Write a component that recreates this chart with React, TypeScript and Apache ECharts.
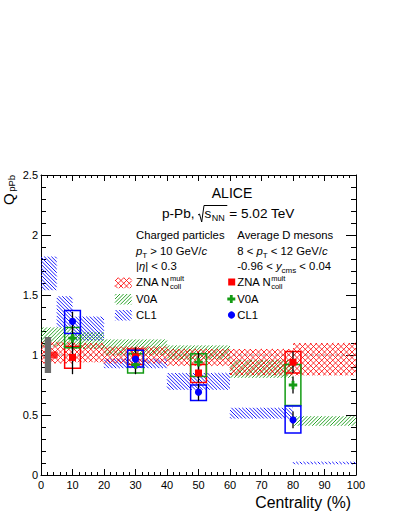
import React, { useEffect, useRef } from "react";
import * as echarts from "echarts";

// ---------------- data ----------------
const binEdges = [0, 5, 10, 20, 40, 60, 80, 100];
// charged-particle Q_pPb uncertainty bands (low / high) per centrality bin
const znaBandLow = [0.93, 0.93, 0.94, 0.93, 0.91, 0.83, 0.83];
const znaBandHigh = [1.11, 1.11, 1.1, 1.07, 1.05, 1.05, 1.1];
const v0aBandLow = [1.07, 1.07, 1.05, 1.0, 0.96, 0.81, 0.41];
const v0aBandHigh = [1.23, 1.23, 1.19, 1.13, 1.08, 0.96, 0.49];
const cl1BandLow = [1.54, 1.23, 1.12, 0.89, 0.71, 0.47, 0.09];
const cl1BandHigh = [1.82, 1.49, 1.32, 0.97, 0.85, 0.56, 0.11];

// average D mesons
const dCentrality = [10, 30, 50, 80];
const dZnaValue = [0.98, 0.985, 0.85, 0.94];
const dZnaStat = [0.14, 0.08, 0.08, 0.09];
const dZnaSysLow = [0.89, 0.92, 0.77, 0.85];
const dZnaSysHigh = [1.07, 1.05, 0.92, 1.03];
const dV0aValue = [1.14, 0.92, 0.94, 0.75];
const dV0aStat = [0.1, 0.08, 0.08, 0.07];
const dV0aSysLow = [1.06, 0.85, 0.82, 0.58];
const dV0aSysHigh = [1.23, 1.01, 1.01, 0.92];
const dCl1Value = [1.28, 0.965, 0.69, 0.46];
const dCl1Stat = [0.08, 0.08, 0.07, 0.07];
const dCl1SysLow = [1.18, 0.9, 0.62, 0.35];
const dCl1SysHigh = [1.37, 1.04, 0.75, 0.575];
const boxHalfWidth = [2.5];

// normalisation uncertainty
const normBoxX = [1.2, 3.2];
const normBoxY = [0.85, 1.15];
const normPoint = [4.2, 1.0];
const refLineValue = 1;

// axis ticks
const xTicks = { min: 0, max: 100, interval: 10 };
const yTicks = { min: 0, max: 2.5, interval: 0.5 };

const FONT = '"Liberation Sans", Arial, Helvetica, sans-serif';
const RED = "#ff0000";
const GREEN = "#149b14";
const BLUE = "#0000ff";

let mctx: CanvasRenderingContext2D | null = null;
function tw(text: string, size: number, italic?: boolean) {
  if (!mctx) mctx = document.createElement("canvas").getContext("2d");
  mctx!.font = `${italic ? "italic " : ""}${size}px ${FONT}`;
  return mctx!.measureText(text).width;
}

type Piece = { t: string; s?: number; dy?: number; i?: boolean; dx?: number; noAdv?: boolean };
function seq(x0: number, y: number, pieces: Piece[], base: number, rot = false) {
  const els: any[] = [];
  const xs: number[] = [];
  let x = 0;
  for (const p of pieces) {
    const s = p.s ?? base;
    x += p.dx ?? 0;
    xs.push(x0 + x);
    const dy = p.dy ?? 0;
    els.push({
      type: "text",
      x: rot ? x0 + dy : x0 + x,
      y: rot ? y - x : y + dy,
      rotation: rot ? Math.PI / 2 : 0,
      silent: true,
      style: {
        text: p.t,
        fontSize: s,
        fontFamily: FONT,
        fontStyle: p.i ? "italic" : "normal",
        fill: "#000",
        align: "left",
        verticalAlign: "middle",
      },
    });
    if (!p.noAdv) x += tw(p.t, s, p.i);
  }
  xs.push(x0 + x);
  return { els, xs };
}

type Hatch = { dirs: number[]; d: number; color: string; lw: number };
const hZna: Hatch = { dirs: [1, -1], d: 5.5, color: RED, lw: 0.8 };
const hV0a: Hatch = { dirs: [1], d: 3.6, color: GREEN, lw: 0.9 };
const hCl1: Hatch = { dirs: [-1], d: 3.6, color: BLUE, lw: 0.9 };

// hatch lines filling a pixel rectangle (global alignment so bins join smoothly)
function hatchLines(x: number, y: number, w: number, h: number, hs: Hatch) {
  const out: any[] = [];
  const d = hs.d;
  for (const dir of hs.dirs) {
    if (dir > 0) {
      const cMin = x + y, cMax = x + w + y + h;
      for (let c = Math.ceil(cMin / d) * d; c <= cMax; c += d) {
        const u1 = Math.max(x, c - y - h), u2 = Math.min(x + w, c - y);
        if (u2 > u1) out.push([u1, c - u1, u2, c - u2]);
      }
    } else {
      const cMin = y - (x + w), cMax = y + h - x;
      for (let c = Math.ceil(cMin / d) * d; c <= cMax; c += d) {
        const u1 = Math.max(x, y - c), u2 = Math.min(x + w, y + h - c);
        if (u2 > u1) out.push([u1, u1 + c, u2, u2 + c]);
      }
    }
  }
  return out.map((s) => ({
    type: "line",
    silent: true,
    shape: { x1: s[0], y1: s[1], x2: s[2], y2: s[3] },
    style: { stroke: hs.color, lineWidth: hs.lw },
  }));
}

const crossPath = "path://M3,0H6V3H9V6H6V9H3V6H0V3H3Z";

export default function App() {
  const ref = useRef<HTMLDivElement>(null);
  useEffect(() => {
    const chart = echarts.init(ref.current!, null, { renderer: "svg" });

    const bandData = (lo: number[], hi: number[]) =>
      binEdges.slice(0, -1).map((x0, i) => [x0, binEdges[i + 1], lo[i], hi[i]]);

    const bandSeries = (name: string, lo: number[], hi: number[], hs: Hatch) => ({
      type: "custom",
      name,
      silent: true,
      clip: true,
      z: 1,
      encode: { x: [0, 1], y: [2, 3] },
      data: bandData(lo, hi),
      renderItem: (_p: any, api: any) => {
        const a = api.coord([api.value(0), api.value(3)]);
        const b = api.coord([api.value(1), api.value(2)]);
        return {
          type: "group",
          children: hatchLines(a[0], a[1], b[0] - a[0], b[1] - a[1], hs),
        };
      },
    });

    const boxSeries = (lo: number[], hi: number[], color: string) => ({
      type: "custom",
      silent: true,
      z: 3,
      encode: { x: 0, y: [1, 2] },
      data: dCentrality.map((c, i) => [c, lo[i], hi[i]]),
      renderItem: (_p: any, api: any) => {
        const a = api.coord([api.value(0) - boxHalfWidth[0], api.value(2)]);
        const b = api.coord([api.value(0) + boxHalfWidth[0], api.value(1)]);
        return {
          type: "rect",
          shape: { x: a[0], y: a[1], width: b[0] - a[0], height: b[1] - a[1] },
          style: { fill: "none", stroke: color, lineWidth: 1.5 },
        };
      },
    });

    const errSeries = (val: number[], err: number[]) => ({
      type: "custom",
      silent: true,
      z: 4,
      encode: { x: 0, y: [1, 2] },
      data: dCentrality.map((c, i) => [c, val[i] - err[i], val[i] + err[i]]),
      renderItem: (_p: any, api: any) => {
        const a = api.coord([api.value(0), api.value(1)]);
        const b = api.coord([api.value(0), api.value(2)]);
        return {
          type: "line",
          shape: { x1: a[0], y1: a[1], x2: b[0], y2: b[1] },
          style: { stroke: "#000", lineWidth: 1.3 },
        };
      },
    });

    const markSeries = (val: number[], symbol: string, size: number, color: string) => ({
      type: "scatter",
      silent: true,
      z: 5,
      symbol,
      symbolSize: size,
      itemStyle: { color, opacity: 1 },
      data: dCentrality.map((c, i) => [c, val[i]]),
    });

    // ---------- texts ----------
    const g: any[] = [];
    g.push({
      type: "text",
      x: 232,
      y: 193,
      silent: true,
      style: { text: "ALICE", fontSize: 14, fontFamily: FONT, fill: "#000", align: "center", verticalAlign: "middle" },
    });
    const top = seq(162, 213, [
      { t: "p-Pb," },
      { t: "s", dx: 10 },
      { t: "NN", s: 9, dy: 5, dx: 0.5 },
      { t: "= 5.02 TeV", dx: 4.5 },
    ], 13.6);
    g.push(...top.els);
    const sx = top.xs[1];
    g.push({
      type: "polyline",
      silent: true,
      shape: {
        points: [
          [sx - 6.5, 215],
          [sx - 5, 214],
          [sx - 2.8, 222],
          [sx - 0.5, 205.5],
          [top.xs[3] - 2, 205.5],
        ],
      },
      style: { stroke: "#000", lineWidth: 1, fill: "none" },
    });

    const fs = 11.3;
    const L = 136;
    const R = 237.3;
    g.push(...seq(L, 235, [{ t: "Charged particles" }], fs).els);
    g.push(...seq(L, 251, [{ t: "p", i: true }, { t: "T", s: 8, dy: 4 }, { t: " > 10 GeV/" }, { t: "c", i: true }], fs).els);
    g.push(...seq(L, 266, [{ t: "|" }, { t: "η", i: true }, { t: "| < 0.3" }], fs).els);
    g.push(...seq(R, 235, [{ t: "Average D mesons" }], fs).els);
    g.push(...seq(R, 251, [{ t: "8 < " }, { t: "p", i: true }, { t: "T", s: 8, dy: 4 }, { t: " < 12 GeV/" }, { t: "c", i: true }], fs).els);
    g.push(...seq(R, 266, [{ t: "-0.96 < " }, { t: "y", i: true }, { t: "cms", s: 8, dy: 4 }, { t: " < 0.04" }], fs).els);

    const znaLabel: Piece[] = [{ t: "ZNA N" }, { t: "mult", s: 7.5, dy: -4, noAdv: true }, { t: "coll", s: 7.5, dy: 4 }];
    g.push(...seq(L, 282, znaLabel, fs).els);
    g.push(...seq(L, 299, [{ t: "V0A" }], fs).els);
    g.push(...seq(L, 315, [{ t: "CL1" }], fs).els);
    g.push(...seq(R, 282, znaLabel, fs).els);
    g.push(...seq(R, 299, [{ t: "V0A" }], fs).els);
    g.push(...seq(R, 315, [{ t: "CL1" }], fs).els);

    // legend swatches
    const sw = (y0: number, hs: Hatch) => ({
      type: "group",
      silent: true,
      children: hatchLines(115, y0, 16.7, 10.5, hs),
    });
    g.push(sw(277.7, hZna), sw(294, hV0a), sw(310, hCl1));
    // legend markers
    g.push({ type: "rect", silent: true, shape: { x: 228.2, y: 278.5, width: 7, height: 7 }, style: { fill: RED } });
    const cx = 231.3, cy = 299, a = 4, w = 1.4;
    g.push({
      type: "polygon",
      silent: true,
      shape: {
        points: [
          [cx - w, cy - a], [cx + w, cy - a], [cx + w, cy - w], [cx + a, cy - w], [cx + a, cy + w], [cx + w, cy + w],
          [cx + w, cy + a], [cx - w, cy + a], [cx - w, cy + w], [cx - a, cy + w], [cx - a, cy - w], [cx - w, cy - w],
        ],
      },
      style: { fill: GREEN },
    });
    g.push({ type: "circle", silent: true, shape: { cx: 231.5, cy: 315, r: 3.6 }, style: { fill: BLUE } });

    // axis titles
    g.push(...seq(8, 205, [{ t: "Q", s: 15 }, { t: "pPb", s: 9.5, dy: 3.5, dx: 1.5 }], 15, true).els);
    g.push({
      type: "text",
      x: 351,
      y: 502,
      silent: true,
      style: { text: "Centrality (%)", fontSize: 15.8, fontFamily: FONT, fill: "#000", align: "right", verticalAlign: "middle" },
    });

    const axLine = { show: true, onZero: false, lineStyle: { color: "#000", width: 1 } };
    const tickStyle = { color: "#000", width: 1 };
    const xBase = (pos: string, labels: boolean) => ({
      type: "value",
      position: pos,
      min: xTicks.min,
      max: xTicks.max,
      interval: xTicks.interval,
      axisLine: axLine,
      axisTick: { show: true, inside: true, length: 6, lineStyle: tickStyle },
      minorTick: { show: true, splitNumber: 5, length: 3, lineStyle: tickStyle },
      splitLine: { show: false },
      axisLabel: { show: labels, fontSize: 11, color: "#000", margin: 4, fontFamily: FONT },
    });
    const yBase = (pos: string, labels: boolean) => ({
      type: "value",
      position: pos,
      min: yTicks.min,
      max: yTicks.max,
      interval: yTicks.interval,
      axisLine: axLine,
      axisTick: { show: true, inside: true, length: 10, lineStyle: tickStyle },
      minorTick: { show: true, splitNumber: 5, length: 5, lineStyle: tickStyle },
      splitLine: { show: false },
      axisLabel: { show: labels, fontSize: 11, color: "#000", margin: 3, fontFamily: FONT },
    });

    chart.setOption({
      animation: false,
      backgroundColor: "#fff",
      grid: { left: 41, top: 175, right: 39, bottom: 36 },
      xAxis: [xBase("bottom", true), xBase("top", false)],
      yAxis: [yBase("left", true), yBase("right", false)],
      graphic: g,
      series: [
        {
          type: "line",
          silent: true,
          z: 0,
          symbol: "none",
          data: [[xTicks.min, refLineValue], [xTicks.max, refLineValue]],
          lineStyle: { color: "#999", width: 1, type: [3, 3] },
        },
        bandSeries("CL1", cl1BandLow, cl1BandHigh, hCl1),
        bandSeries("V0A", v0aBandLow, v0aBandHigh, hV0a),
        bandSeries("ZNA", znaBandLow, znaBandHigh, hZna),
        {
          type: "custom",
          silent: true,
          z: 3,
          data: [[normBoxX[0], normBoxX[1], normBoxY[0], normBoxY[1]]],
          encode: { x: [0, 1], y: [2, 3] },
          renderItem: (_p: any, api: any) => {
            const p0 = api.coord([api.value(0), api.value(3)]);
            const p1 = api.coord([api.value(1), api.value(2)]);
            return {
              type: "rect",
              shape: { x: p0[0], y: p0[1], width: p1[0] - p0[0], height: p1[1] - p0[1] },
              style: { fill: "#6b6b6b" },
            };
          },
        },
        {
          type: "scatter",
          silent: true,
          z: 5,
          symbol: "rect",
          symbolSize: 7,
          itemStyle: { color: RED },
          data: [normPoint],
        },
        boxSeries(dZnaSysLow, dZnaSysHigh, RED),
        boxSeries(dV0aSysLow, dV0aSysHigh, GREEN),
        boxSeries(dCl1SysLow, dCl1SysHigh, BLUE),
        errSeries(dZnaValue, dZnaStat),
        errSeries(dV0aValue, dV0aStat),
        errSeries(dCl1Value, dCl1Stat),
        markSeries(dZnaValue, "rect", 7, RED),
        markSeries(dV0aValue, crossPath, 8.5, GREEN),
        markSeries(dCl1Value, "circle", 7.2, BLUE),
      ],
    });
    return () => chart.dispose();
  }, []);
  return (
    <div
      ref={ref}
      style={{ position: "fixed", left: 0, top: 0, width: 395, height: 511, background: "#fff" }}
    />
  );
}
